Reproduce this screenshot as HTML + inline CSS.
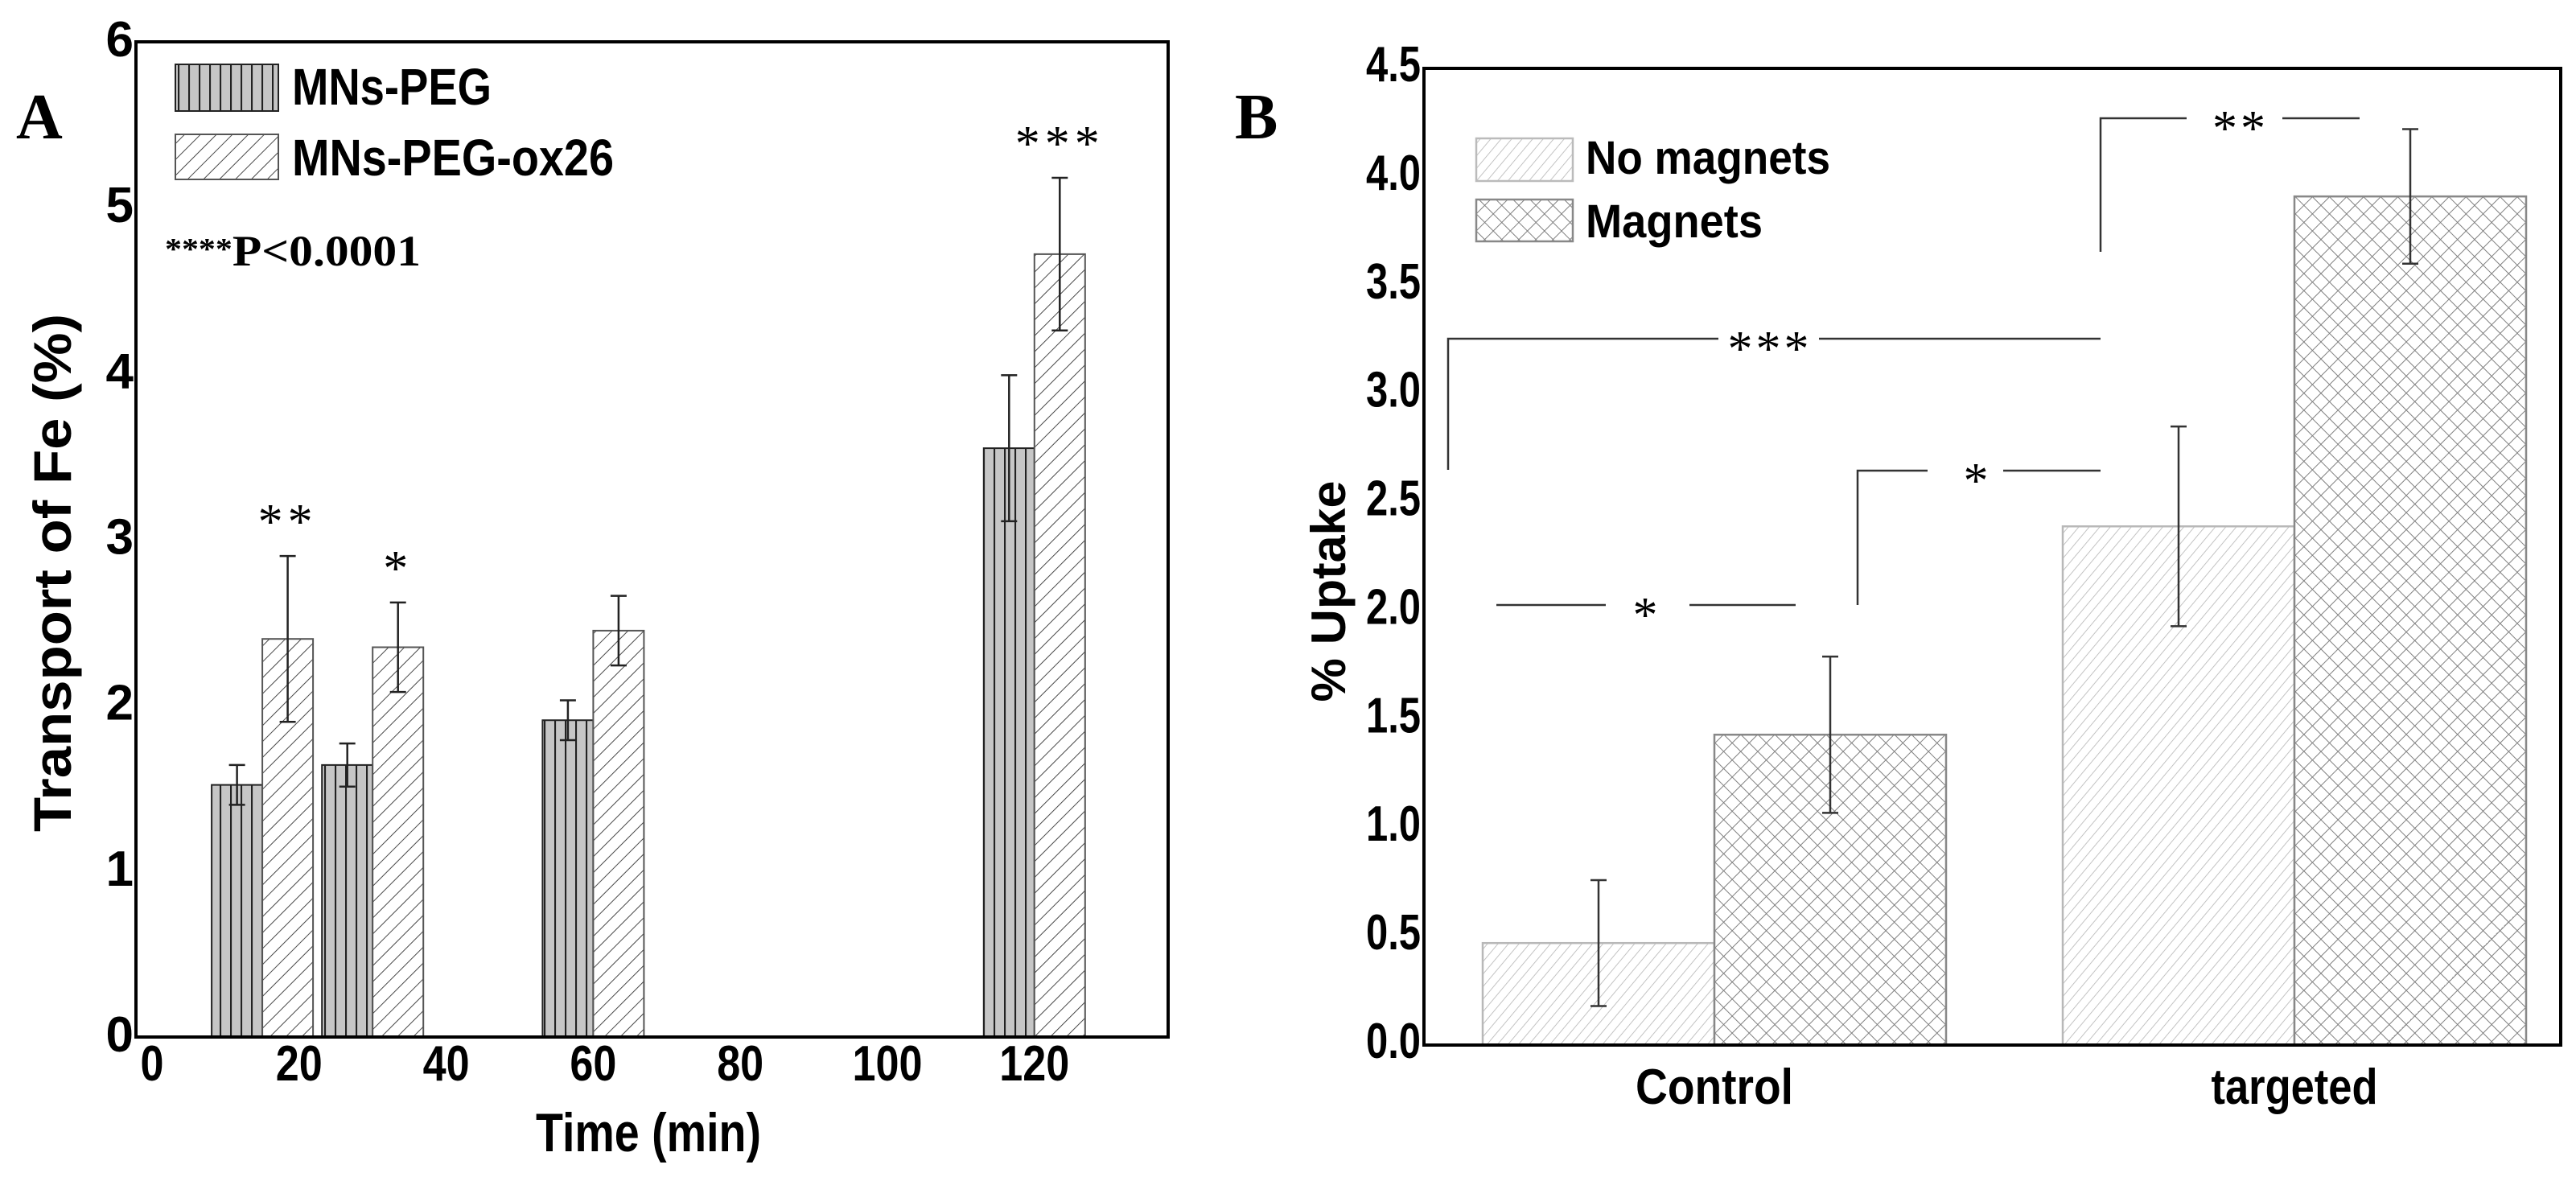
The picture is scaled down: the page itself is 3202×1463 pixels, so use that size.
<!DOCTYPE html>
<html><head><meta charset="utf-8"><style>
html,body{margin:0;padding:0;background:#fff;}
svg{display:block;}
.tick{font-family:"Liberation Sans",Arial,sans-serif;font-weight:bold;font-size:62px;fill:#000;}
.lab{font-family:"Liberation Sans",Arial,sans-serif;font-weight:bold;fill:#000;}
.ser{font-family:"Liberation Serif","Times New Roman",serif;font-weight:bold;fill:#000;}
.star{font-family:"Liberation Serif",serif;font-size:62px;fill:#000;}
</style></head><body>
<svg id="chart" width="3202" height="1463" viewBox="0 0 3202 1463" xmlns="http://www.w3.org/2000/svg">
<defs>
<pattern id="pVert" patternUnits="userSpaceOnUse" width="13" height="20"><rect width="13" height="20" fill="#c6c6c6"/><line x1="1" y1="0" x2="1" y2="20" stroke="#222" stroke-width="2.2"/></pattern>
<pattern id="pDiagA" patternUnits="userSpaceOnUse" width="14" height="14" patternTransform="rotate(45)"><rect width="14" height="14" fill="#fff"/><line x1="0" y1="0" x2="0" y2="14" stroke="#333" stroke-width="1.8"/></pattern>
<pattern id="pDiagB" patternUnits="userSpaceOnUse" width="10" height="10" patternTransform="rotate(40)"><rect width="10" height="10" fill="#fff"/><line x1="0" y1="0" x2="0" y2="10" stroke="#b4b4b4" stroke-width="1.6"/></pattern>
<pattern id="pCross" patternUnits="userSpaceOnUse" width="15" height="15" patternTransform="rotate(45)"><rect width="15" height="15" fill="#fff"/><line x1="0" y1="0" x2="0" y2="15" stroke="#808080" stroke-width="2"/><line x1="0" y1="0" x2="15" y2="0" stroke="#808080" stroke-width="2"/></pattern>
</defs>
<g id="panelA"></g>
<g id="panelB"></g>
</svg>
<script>
// ---- Panel A data ----
const timesA = [15, 30, 60, 120];
const pegValues = [1.52, 1.64, 1.91, 3.55];
const pegErrors = [0.12, 0.13, 0.12, 0.44];
const oxValues = [2.40, 2.35, 2.45, 4.72];
const oxErrors = [0.50, 0.27, 0.21, 0.46];
const yTicksA = [0, 1, 2, 3, 4, 5, 6];
const xTicksA = [0, 20, 40, 60, 80, 100, 120];
const starsA = ["**", "*", "", "***"];
// ---- Panel B data ----
const groupsB = ["Control", "targeted"];
const noMagValues = [0.47, 2.39];
const noMagErrors = [0.29, 0.46];
const magValues = [1.43, 3.91];
const magErrors = [0.36, 0.31];
const yTicksB = [0.0, 0.5, 1.0, 1.5, 2.0, 2.5, 3.0, 3.5, 4.0, 4.5];

const NS = "http://www.w3.org/2000/svg";
function mk(parent, tag, attrs, text) {
  const e = document.createElementNS(NS, tag);
  for (const k in attrs) e.setAttribute(k, attrs[k]);
  if (text !== undefined) e.textContent = text;
  parent.appendChild(e);
  return e;
}

// ===== Panel A =====
(function(){
  const g = document.getElementById('panelA');
  const L = 169, R = 1452, T = 52, B = 1289;
  const xA = t => 189 + t * 9.14;
  const yA = v => B - v * (B - T) / 6;
  const bw = 63;
  timesA.forEach((t, i) => {
    const c = xA(t);
    let r = mk(g, 'rect', {x: c - bw, y: yA(pegValues[i]), width: bw, height: B - yA(pegValues[i]), fill: 'url(#pVert)', stroke: '#222', 'stroke-width': 2});
    
    
    r = mk(g, 'rect', {x: c, y: yA(oxValues[i]), width: bw, height: B - yA(oxValues[i]), fill: 'url(#pDiagA)', stroke: '#555', 'stroke-width': 2});
    
    
    [[c - bw / 2, pegValues[i], pegErrors[i]], [c + bw / 2, oxValues[i], oxErrors[i]]].forEach(([x, v, e]) => {
      const eg = mk(g, 'g', {stroke: '#222', 'stroke-width': 2.5});
      
      
      mk(eg, 'line', {x1: x, x2: x, y1: yA(v + e), y2: yA(v - e)});
      mk(eg, 'line', {x1: x - 10, x2: x + 10, y1: yA(v + e), y2: yA(v + e)});
      mk(eg, 'line', {x1: x - 10, x2: x + 10, y1: yA(v - e), y2: yA(v - e)});
    });
    if (starsA[i]) {
      const s = mk(g, 'text', {x: c + bw / 2, y: yA(oxValues[i] + oxErrors[i]) - 22, class: 'star', 'text-anchor': 'middle', 'letter-spacing': '6'}, starsA[i]);
      
      
    }
  });
  const ax = mk(g, 'rect', {x: L, y: T, width: R - L, height: B - T, fill: 'none', stroke: '#000', 'stroke-width': 4});
  
  
  yTicksA.forEach(v => {
    const t = mk(g, 'text', {x: 166, y: yA(v) + 18, class: 'tick', 'text-anchor': 'end'}, String(v));
    
    
  });
  xTicksA.forEach(v => {
    const t = mk(g, 'text', {x: xA(v), y: 1343, class: 'tick', 'text-anchor': 'middle', textLength: String(v).length * 29, lengthAdjust: 'spacingAndGlyphs'}, String(v));
    
    
  });
})();

// ===== Panel B =====
(function(){
  const g = document.getElementById('panelB');
  const L = 1770, R = 3183, T = 85, B = 1299;
  const yB = v => B - v * (B - T) / 4.5;
  const centers = [2131, 2852];
  const bw = 288;
  groupsB.forEach((name, i) => {
    const c = centers[i];
    let r = mk(g, 'rect', {x: c - bw, y: yB(noMagValues[i]), width: bw, height: B - yB(noMagValues[i]), fill: 'url(#pDiagB)', stroke: '#b8b8b8', 'stroke-width': 2.5});
    
    
    r = mk(g, 'rect', {x: c, y: yB(magValues[i]), width: bw, height: B - yB(magValues[i]), fill: 'url(#pCross)', stroke: '#888', 'stroke-width': 2.5});
    
    
    [[c - bw / 2, noMagValues[i], noMagErrors[i]], [c + bw / 2, magValues[i], magErrors[i]]].forEach(([x, v, e]) => {
      const eg = mk(g, 'g', {stroke: '#333', 'stroke-width': 2.5});
      
      
      mk(eg, 'line', {x1: x, x2: x, y1: yB(v + e), y2: yB(v - e)});
      mk(eg, 'line', {x1: x - 10, x2: x + 10, y1: yB(v + e), y2: yB(v + e)});
      mk(eg, 'line', {x1: x - 10, x2: x + 10, y1: yB(v - e), y2: yB(v - e)});
    });
    const t = mk(g, 'text', {x: c, y: 1372, class: 'lab', 'font-size': 62, 'text-anchor': 'middle', textLength: name === 'Control' ? 196 : 207, lengthAdjust: 'spacingAndGlyphs'}, name);
    
    
  });
  const ax = mk(g, 'rect', {x: L, y: T, width: R - L, height: B - T, fill: 'none', stroke: '#000', 'stroke-width': 4});
  
  
  yTicksB.forEach(v => {
    const t = mk(g, 'text', {x: 1766, y: yB(v) + 16, class: 'tick', 'font-size': 60, 'text-anchor': 'end', textLength: 68, lengthAdjust: 'spacingAndGlyphs'}, v.toFixed(1));
    
    
  });
})();
</script>
<svg style="position:absolute;left:0;top:0" width="3202" height="1463" viewBox="0 0 3202 1463" xmlns="http://www.w3.org/2000/svg">
<defs>
<pattern id="qVert" patternUnits="userSpaceOnUse" width="13" height="20"><rect width="13" height="20" fill="#c6c6c6"/><line x1="1" y1="0" x2="1" y2="20" stroke="#222" stroke-width="2.2"/></pattern>
<pattern id="qDiagA" patternUnits="userSpaceOnUse" width="14" height="14" patternTransform="rotate(45)"><rect width="14" height="14" fill="#fff"/><line x1="0" y1="0" x2="0" y2="14" stroke="#333" stroke-width="1.8"/></pattern>
<pattern id="qDiagB" patternUnits="userSpaceOnUse" width="10" height="10" patternTransform="rotate(40)"><rect width="10" height="10" fill="#fff"/><line x1="0" y1="0" x2="0" y2="10" stroke="#b4b4b4" stroke-width="1.6"/></pattern>
<pattern id="qCross" patternUnits="userSpaceOnUse" width="15" height="15" patternTransform="rotate(45)"><rect width="15" height="15" fill="#fff"/><line x1="0" y1="0" x2="0" y2="15" stroke="#808080" stroke-width="2"/><line x1="0" y1="0" x2="15" y2="0" stroke="#808080" stroke-width="2"/></pattern>
</defs>
<!-- Panel A labels -->
<text class="ser" x="20" y="172" font-size="80">A</text>
<g>
  <rect x="218" y="80" width="128" height="58" fill="url(#qVert)" stroke="#222" stroke-width="2"/>
  <text class="lab" x="363" y="130" font-size="64" textLength="248" lengthAdjust="spacingAndGlyphs">MNs-PEG</text>
  <rect x="218" y="167" width="128" height="56" fill="url(#qDiagA)" stroke="#555" stroke-width="2"/>
  <text class="lab" x="363" y="218" font-size="64" textLength="400" lengthAdjust="spacingAndGlyphs">MNs-PEG-ox26</text>
</g>
<text class="ser" x="205" y="330" font-size="54" textLength="318" lengthAdjust="spacingAndGlyphs"><tspan font-size="38" dy="-8">****</tspan><tspan dy="8">P&lt;0.0001</tspan></text>
<text class="lab" x="0" y="0" font-size="66" text-anchor="middle" textLength="644" lengthAdjust="spacingAndGlyphs" transform="translate(88,712) rotate(-90)">Transport  of Fe (%)</text>
<text class="lab" x="806" y="1431" font-size="68" text-anchor="middle" textLength="280" lengthAdjust="spacingAndGlyphs">Time (min)</text>
<!-- Panel B labels -->
<text class="ser" x="1535" y="172" font-size="80">B</text>
<g>
  <rect x="1835" y="172" width="120" height="53" fill="url(#qDiagB)" stroke="#bbb" stroke-width="2.5"/>
  <text class="lab" x="1971" y="216" font-size="58" textLength="304" lengthAdjust="spacingAndGlyphs">No magnets</text>
  <rect x="1835" y="248" width="120" height="52" fill="url(#qCross)" stroke="#888" stroke-width="2.5"/>
  <text class="lab" x="1971" y="295" font-size="58" textLength="220" lengthAdjust="spacingAndGlyphs">Magnets</text>
</g>
<text class="lab" x="0" y="0" font-size="60" text-anchor="middle" textLength="275" lengthAdjust="spacingAndGlyphs" transform="translate(1672,735) rotate(-90)">% Uptake</text>
<g stroke="#333" stroke-width="2.5" fill="none">
  <polyline points="2611,313 2611,147 2718,147"/><line x1="2837" y1="147" x2="2933" y2="147"/>
  <polyline points="1800,584 1800,421 2136,421"/><line x1="2261" y1="421" x2="2611" y2="421"/>
  <polyline points="2309,752 2309,585 2396,585"/><line x1="2490" y1="585" x2="2611" y2="585"/>
  <line x1="1860" y1="752" x2="1996" y2="752"/><line x1="2100" y1="752" x2="2232" y2="752"/>
</g>
<text class="star" x="2785" y="180" text-anchor="middle" letter-spacing="4">**</text>
<text class="star" x="2200" y="454" text-anchor="middle" letter-spacing="4">***</text>
<text class="star" x="2456" y="618" text-anchor="middle">*</text>
<text class="star" x="2045" y="785" text-anchor="middle">*</text>
</svg>
</body></html>
